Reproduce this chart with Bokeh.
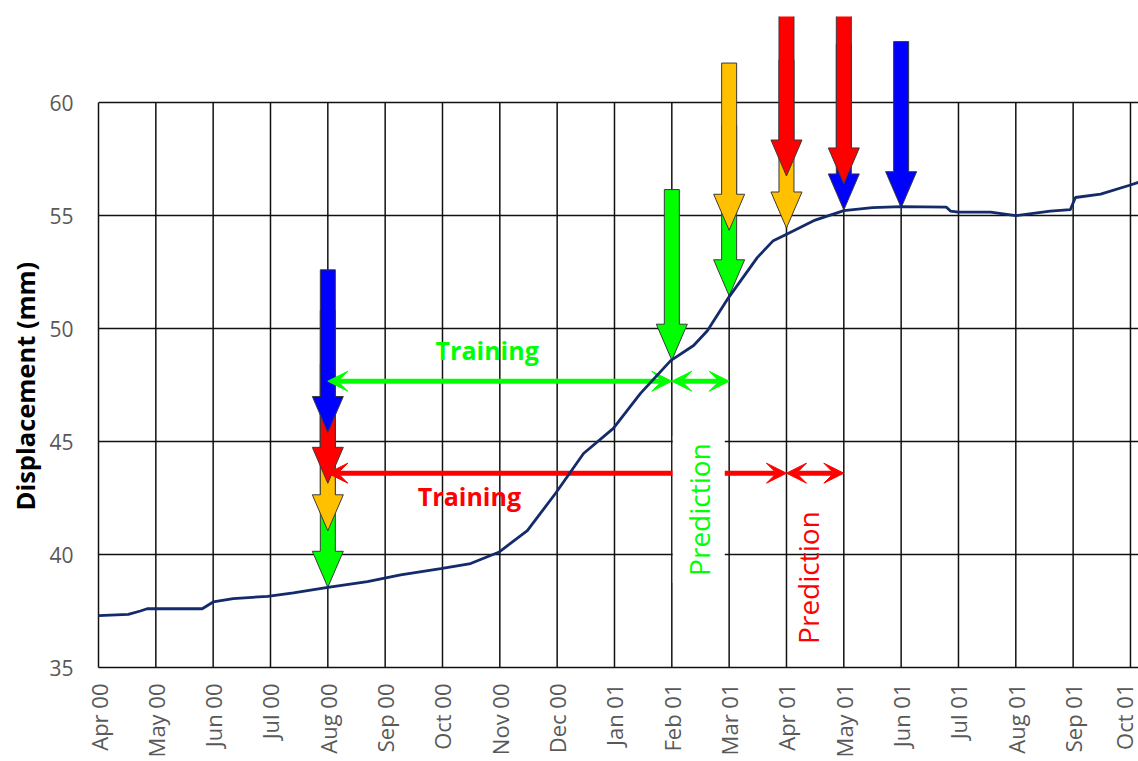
from math import pi
from bokeh.plotting import figure
from bokeh.models import Range1d, FixedTicker, Label, Arrow, VeeHead, Title
from bokeh.embed import file_html
from bokeh.resources import INLINE

# ---------------- data ----------------
month_labels = ["Apr 00", "May 00", "Jun 00", "Jul 00", "Aug 00", "Sep 00", "Oct 00",
                "Nov 00", "Dec 00", "Jan 01", "Feb 01", "Mar 01", "Apr 01", "May 01",
                "Jun 01", "Jul 01", "Aug 01", "Sep 01", "Oct 01"]
y_ticks = [35, 40, 45, 50, 55, 60]
y_title = "Displacement (mm)"

# displacement curve (x = months since Apr 00)
curve_month = [0.0, 0.52, 0.73, 0.85, 1.81, 2.0, 2.35, 2.95, 3.4, 4.0, 4.69, 5.27, 5.97,
               6.49, 6.98, 7.48, 7.97, 8.46, 8.98, 9.45, 9.98, 10.38, 10.62, 10.99, 11.49,
               11.77, 12.02, 12.5, 13.0, 13.5, 14.0, 14.79, 14.86, 15.0, 15.56, 16.0, 16.6,
               16.95, 17.04, 17.48, 17.97, 18.14]
curve_mm = [37.3, 37.35, 37.5, 37.6, 37.6, 37.9, 38.05, 38.15, 38.3, 38.55, 38.8, 39.1, 39.38,
            39.6, 40.1, 41.06, 42.7, 44.47, 45.58, 47.12, 48.58, 49.25, 49.9, 51.37, 53.14,
            53.89, 54.2, 54.8, 55.22, 55.35, 55.4, 55.37, 55.2, 55.15, 55.15, 55.0, 55.2,
            55.26, 55.8, 55.95, 56.33, 56.47]

# vertical markers (drawn in this order)
marker_month = [4, 4, 4, 4, 10, 11, 11, 12, 12, 13, 13, 14]
marker_tip = [38.55, 41.05, 43.15, 45.4, 48.6, 51.45, 54.35, 54.45, 56.75, 55.25, 56.4, 55.35]
marker_top = [47.0, 48.45, 50.8, 52.6, 56.15, 59.0, 61.75, 61.9, 66.0, 62.6, 66.0, 62.7]
marker_color = ["#00ff00", "#ffc000", "#ff0000", "#0000ff", "#00ff00", "#00ff00", "#ffc000",
                "#ffc000", "#ff0000", "#0000ff", "#ff0000", "#0000ff"]

# training / prediction spans
span_start = [4, 10, 4, 12]
span_end = [10, 11, 12, 13]
span_level = [47.67, 47.67, 43.6, 43.6]
span_color = ["#00ff00", "#00ff00", "#ff0000", "#ff0000"]

# ---------------- layout ----------------
W, H = 1138, 760
B_LEFT, B_RIGHT, B_TOP, B_BOTTOM = 98, 0, 16, 93
X0, X1 = 0, 18.14
Y0, Y1 = 35, 63.81
frame_w = W - B_LEFT - B_RIGHT
frame_h = H - B_TOP - B_BOTTOM
ux = (X1 - X0) / frame_w   # data units per pixel
uy = (Y1 - Y0) / frame_h

p = figure(width=W, height=H, output_backend="svg", toolbar_location=None,
           x_range=Range1d(X0, X1), y_range=Range1d(Y0, Y1),
           min_border_left=B_LEFT, min_border_right=B_RIGHT,
           min_border_top=B_TOP, min_border_bottom=B_BOTTOM)
p.outline_line_color = None
p.background_fill_color = "white"
p.border_fill_color = "white"

# grid
p.xgrid.grid_line_color = None
p.ygrid.ticker = FixedTicker(ticks=y_ticks)
p.ygrid.grid_line_color = "#111111"
p.ygrid.grid_line_width = 1.5
vx = list(range(1, len(month_labels)))
p.segment(x0=vx, y0=[y_ticks[0]] * len(vx), x1=vx, y1=[y_ticks[-1]] * len(vx),
          line_color="#111111", line_width=1.5)

# axes
xa = p.xaxis[0]
xa.ticker = FixedTicker(ticks=list(range(len(month_labels))))
xa.major_label_overrides = {i: s for i, s in enumerate(month_labels)}
xa.major_label_orientation = pi / 2
xa.major_tick_out = 0
xa.major_tick_in = 0
xa.minor_tick_out = 0
xa.minor_tick_in = 0
xa.axis_line_color = "#111111"
xa.axis_line_width = 1.5
xa.major_label_text_font = "Open Sans"
xa.major_label_text_font_size = "22px"
xa.major_label_text_color = "#595959"
xa.major_label_standoff = 16

ya = p.yaxis[0]
ya.ticker = FixedTicker(ticks=y_ticks)
ya.bounds = (y_ticks[0], y_ticks[-1])
ya.major_tick_out = 0
ya.major_tick_in = 0
ya.minor_tick_out = 0
ya.minor_tick_in = 0
ya.axis_line_color = "#111111"
ya.axis_line_width = 1.5
ya.major_label_text_font = "Open Sans"
ya.major_label_text_font_size = "21px"
ya.major_label_text_color = "#595959"
ya.major_label_standoff = 25

# y axis title (left-side title, shifted so it is centred on the 35-60 span)
p.add_layout(Title(text=y_title, align="left", offset=157, standoff=10,
                   text_font="Open Sans", text_font_style="bold", text_font_size="25.5px",
                   text_color="black"), "left")

# vertical marker arrows (polygons built from tip/top values)
SHAFT, HEAD_W, HEAD_L = 7.5, 15.5, 36
xs, ys = [], []
for m, tip, top in zip(marker_month, marker_tip, marker_top):
    sw, hw, hl = SHAFT * ux, HEAD_W * ux, HEAD_L * uy
    xs.append([m - sw, m + sw, m + sw, m + hw, m, m - hw, m - sw])
    ys.append([top, top, tip + hl, tip + hl, tip, tip + hl, tip + hl])
p.patches(xs=xs, ys=ys, fill_color=marker_color, line_color="#3a3a3a", line_width=1)

# training/prediction spans
for xs0, xe0, lv, c in zip(span_start, span_end, span_level, span_color):
    p.add_layout(Arrow(x_start=xs0, y_start=lv, x_end=xe0, y_end=lv,
                       line_color=c, line_width=5,
                       start=VeeHead(size=20, fill_color=c, line_color=c, line_width=1),
                       end=VeeHead(size=20, fill_color=c, line_color=c, line_width=1)))

# curve on top
p.line(curve_month, curve_mm, line_color="#132a6b", line_width=2.8, level="overlay")

# texts
def add_label(x, y, text, color, bold=True, size="22px", angle=0.0, bg=None):
    lab = Label(x=x, y=y, text=text, text_color=color, text_font="Open Sans",
                text_font_style="bold" if bold else "normal", text_font_size=size,
                text_align="center", text_baseline="middle", angle=angle)
    if bg:
        lab.background_fill_color = bg
        lab.padding = 7
    p.add_layout(lab)

add_label(6.78, 49.03, "Training", "#00ff00", size="25px")
add_label(6.47, 42.57, "Training", "#ff0000", size="25px")
add_label(10.47, 41.99, "Prediction", "#00ff00", bold=False, size="28px", angle=pi / 2, bg="white")
add_label(12.38, 38.98, "Prediction", "#ff0000", bold=False, size="28px", angle=pi / 2)

open("out.html", "w").write(file_html(p, INLINE))
